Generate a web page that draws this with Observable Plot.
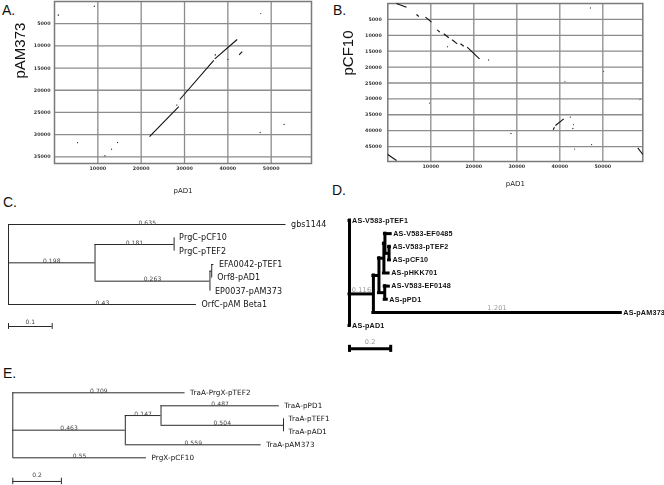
<!DOCTYPE html>
<html><head><meta charset="utf-8">
<script src="https://cdn.jsdelivr.net/npm/d3@7"></script>
<script src="https://cdn.jsdelivr.net/npm/@observablehq/plot@0.6"></script>
<style>
body{margin:0;background:#fff;}
#fig{position:relative;width:664px;height:485px;overflow:hidden;background:#fff;font-family:"Liberation Sans",Arial,sans-serif;}
.panel{position:absolute;filter:grayscale(1);}
.panel svg{overflow:visible;}
.letter{position:absolute;font-size:14px;line-height:14px;color:#111;}
</style></head><body><div id="fig"></div>
<script>
// ---------- Panel A: dot plot, pAD1 (x, bp) vs pAM373 (y, bp) ----------
const aLengthX = 59300, aLengthY = 36500;
const aTicksX = [10000, 20000, 30000, 40000, 50000];
const aTicksY = [5000, 10000, 15000, 20000, 25000, 30000, 35000];
// [x1, y1, x2, y2] matching segments
const aMatches = [
  [21920, 30420, 28680, 23660],
  [28910, 22080, 36750, 13290],
  [36990, 12910, 42140, 8560],
  [760, 3150, 1000, 2950],
  [9070, 1130, 9300, 1000],
  [47530, 2780, 47650, 2650],
  [42600, 12000, 43300, 11300],
  [37000, 12170, 37200, 11900],
  [39980, 13140, 40100, 12950],
  [28150, 23430, 28300, 23250],
  [5240, 31920, 5380, 31750],
  [11540, 34850, 11750, 34700],
  [13080, 33340, 13250, 33200],
  [14460, 31840, 14650, 31700],
  [47360, 29580, 47550, 29450],
  [52900, 27780, 53050, 27600]
];
// ---------- Panel B: dot plot, pAD1 (x, bp) vs pCF10 (y, bp) ----------
const bLengthX = 59300, bLengthY = 49700;
const bTicksX = [10000, 20000, 30000, 40000, 50000];
const bTicksY = [5000, 10000, 15000, 20000, 25000, 30000, 35000, 40000, 45000];
const bMatches = [
  [2000, 0, 4350, 1160],
  [6670, 3460, 7210, 4090],
  [8770, 4310, 10160, 5880],
  [11490, 8270, 12090, 9030],
  [13020, 9530, 14180, 10790],
  [14970, 11420, 16140, 12680],
  [16900, 12680, 17670, 13430],
  [18460, 13750, 21320, 17400],
  [13810, 13530, 13950, 13700],
  [23340, 17710, 23550, 17850],
  [41150, 24440, 41250, 24600],
  [50150, 21300, 50250, 21450],
  [9630, 31240, 9750, 31400],
  [28530, 40800, 28750, 40950],
  [58590, 30200, 58700, 30350],
  [38990, 38380, 40920, 36270],
  [38460, 39730, 38760, 38920],
  [42320, 35770, 42550, 35700],
  [42940, 39420, 43150, 39200],
  [43110, 38070, 43250, 38200],
  [43410, 45710, 43500, 45900],
  [47290, 44360, 47500, 44450],
  [47030, 1350, 47200, 1500],
  [0, 47500, 2020, 49390],
  [58130, 45400, 59300, 47500]
];
// ---------- Panel C tree: [node, parent, branch length, show length] ----------
const treeC = [
  ["rootC", null, 0, false],
  ["gbs1144", "rootC", 0.635, true],
  ["c1", "rootC", 0.198, true],
  ["c2", "c1", 0.181, true],
  ["PrgC-pCF10", "c2", 0, false],
  ["PrgC-pTEF2", "c2", 0, false],
  ["c3", "c1", 0.263, true],
  ["c4", "c3", 0.004, false],
  ["EFA0042-pTEF1", "c4", 0.005, false],
  ["Orf8-pAD1", "c4", 0.001, false],
  ["EP0037-pAM373", "c3", 0, false],
  ["OrfC-pAM Beta1", "rootC", 0.43, true]
];
const scaleC = 0.1;
// ---------- Panel D tree ----------
const treeD = [
  ["rootD", null, 0, false],
  ["AS-V583-pTEF1", "rootD", 0, false],
  ["d1", "rootD", 0.116, true],
  ["d2", "d1", 0.027, false],
  ["d3", "d2", 0.024, false],
  ["d4", "d3", 0.005, false],
  ["AS-V583-EF0485", "d4", 0.028, false],
  ["d5", "d4", 0.02, false],
  ["AS-V583-pTEF2", "d5", 0.004, false],
  ["AS-pCF10", "d5", 0.004, false],
  ["AS-pHKK701", "d3", 0.023, false],
  ["d6", "d2", 0.028, false],
  ["AS-V583-EF0148", "d6", 0.02, false],
  ["AS-pPD1", "d6", 0.01, false],
  ["AS-pAM373", "d1", 1.201, true],
  ["AS-pAD1", "rootD", 0, false]
];
const scaleD = 0.2;
// ---------- Panel E tree ----------
const treeE = [
  ["rootE", null, 0, false],
  ["TraA-PrgX-pTEF2", "rootE", 0.709, true],
  ["e1", "rootE", 0.463, true],
  ["e2", "e1", 0.147, true],
  ["TraA-pPD1", "e2", 0.487, true],
  ["e3", "e2", 0.504, true],
  ["TraA-pTEF1", "e3", 0, false],
  ["TraA-pAD1", "e3", 0, false],
  ["TraA-pAM373", "e1", 0.559, true],
  ["PrgX-pCF10", "rootE", 0.55, true]
];
const scaleE = 0.2;

const fig = document.getElementById("fig");
function place(node, left, top, w, h) {
  const d = document.createElement("div");
  d.className = "panel";
  d.style.left = left + "px"; d.style.top = top + "px";
  d.style.width = w + "px"; d.style.height = h + "px";
  d.appendChild(node);
  fig.appendChild(d);
}
function letter(t, left, top) {
  const d = document.createElement("div");
  d.className = "letter"; d.textContent = t;
  d.style.left = left + "px"; d.style.top = top + "px";
  fig.appendChild(d);
}

function dotPlot(o) {
  return Plot.plot({
    width: 332, height: 200,
    marginLeft: o.ml, marginRight: o.mr, marginTop: o.mt, marginBottom: o.mb,
    style: {background: "transparent", fontFamily: "'DejaVu Sans', sans-serif", overflow: "visible"},
    x: {domain: [0, o.lenX], axis: null},
    y: {domain: [0, o.lenY], reverse: true, axis: null},
    marks: [
      Plot.gridX(o.ticksX, {stroke: "#8c8c8c", strokeOpacity: 1, strokeWidth: 1.3}),
      Plot.gridY(o.ticksY, {stroke: "#8c8c8c", strokeOpacity: 1, strokeWidth: 1.3}),
      Plot.frame({stroke: "#7a7a7a", strokeWidth: 1.5}),
      Plot.axisX(o.ticksX, {tickSize: 0, tickPadding: 3, fontSize: 4.8, fontWeight: "bold", fill: "#333", tickFormat: d => String(d), label: null}),
      Plot.axisY(o.ticksY, {tickSize: 0, tickPadding: o.ypad, fontSize: 4.8, fontWeight: "bold", fill: "#333", tickFormat: d => String(d), label: null}),
      Plot.link(o.matches, {x1: d => d[0], y1: d => d[1], x2: d => d[2], y2: d => d[3], stroke: "#111", strokeWidth: 1.1}),
      Plot.text([o.xLabel], {text: d => d, frameAnchor: "bottom", lineAnchor: "middle", dy: o.xdy, fontSize: 7, fill: "#222"}),
      Plot.text([o.yLabel], {text: d => d, frameAnchor: "left", lineAnchor: "middle", rotate: -90, dx: o.ydx, dy: o.ydy, fontSize: 15, fontFamily: "'Liberation Sans', Arial, sans-serif", fill: "#111"})
    ]
  });
}

function layoutTree(rows) {
  const nodes = new Map(rows.map(([id, parent, len, show]) => [id, {id, parent, len, show, children: []}]));
  let root;
  for (const n of nodes.values()) {
    if (n.parent == null) root = n; else nodes.get(n.parent).children.push(n);
  }
  let leaf = 0;
  (function walk(n, px) {
    n.x = px + n.len;
    if (!n.children.length) n.y = leaf++;
    else {
      n.children.forEach(c => walk(c, n.x));
      n.y = (n.children[0].y + n.children[n.children.length - 1].y) / 2;
    }
  })(root, 0);
  const h = [], v = [], leaves = [], lens = [];
  for (const n of nodes.values()) {
    if (n.parent != null) {
      const p = nodes.get(n.parent);
      h.push({x1: p.x, x2: n.x, y: n.y});
      if (n.show) lens.push({x: (p.x + n.x) / 2, y: n.y, text: String(n.len)});
    }
    if (n.children.length) v.push({x: n.x, y1: n.children[0].y, y2: n.children[n.children.length - 1].y});
    else leaves.push({x: n.x, y: n.y, name: n.id});
  }
  return {h, v, leaves, lens, nLeaves: leaf};
}

function treePlot(rows, o) {
  const t = layoutTree(rows);
  const barRow = t.nLeaves - 1 + o.barOffset;
  return Plot.plot({
    width: o.width, height: o.height, margin: 0,
    style: {background: "transparent", fontFamily: "'DejaVu Sans', sans-serif", overflow: "visible", letterSpacing: o.ls},
    x: {domain: o.xDomain, range: o.xRange, axis: null},
    y: {domain: [0, t.nLeaves - 1], range: o.yRange, axis: null},
    marks: [
      Plot.ruleY(t.h, {x1: "x1", x2: "x2", y: "y", stroke: o.stroke, strokeWidth: o.sw, strokeLinecap: o.cap}),
      Plot.ruleX(t.v, {x: "x", y1: "y1", y2: "y2", stroke: o.stroke, strokeWidth: o.sw, strokeLinecap: o.cap}),
      Plot.text(t.leaves, {x: "x", y: "y", text: "name", dx: o.labelDx, textAnchor: "start", fontSize: o.fs, fontWeight: o.fw, fontFamily: o.ff, fill: "#111"}),
      Plot.text(t.lens, {x: "x", y: "y", text: "text", dy: o.lenDy, lineAnchor: "bottom", fontSize: o.lfs, fill: o.lenFill}),
      Plot.ruleY([o.bar], {x1: () => 0, x2: d => d, y: () => barRow, stroke: o.stroke, strokeWidth: o.sw}),
      Plot.ruleX([0, o.bar], {x: d => d, y1: () => barRow - o.tick, y2: () => barRow + o.tick, stroke: o.stroke, strokeWidth: o.sw}),
      Plot.text([o.bar], {x: d => d / 2, y: () => barRow, text: d => String(d), dy: o.barDy, lineAnchor: "bottom", fontSize: o.lfs, fill: o.lenFill})
    ]
  });
}

place(dotPlot({lenX: aLengthX, lenY: aLengthY, ticksX: aTicksX, ticksY: aTicksY, matches: aMatches,
  ml: 54, mr: 21, mt: 1, mb: 37, ypad: 4, xdy: 27, ydx: -34, ydy: -4, xLabel: "pAD1", yLabel: "pAM373"}), 0, 0, 332, 200);
place(dotPlot({lenX: bLengthX, lenY: bLengthY, ticksX: bTicksX, ticksY: bTicksY, matches: bMatches,
  ml: 55.3, mr: 21.7, mt: 3, mb: 39, ypad: 6, xdy: 22, ydx: -40, ydy: -7, xLabel: "pAD1", yLabel: "pCF10"}), 332, 0, 332, 200);

place(treePlot(treeC, {width: 332, height: 150, xDomain: [0, 0.7], xRange: [8, 8 + 0.7 * 437], yRange: [34, 114],
  stroke: "#2a2a2a", sw: 1, cap: "butt", labelDx: 5, fs: 8, fw: "normal", ff: "'DejaVu Sans', sans-serif", ls: "0.1px",
  lfs: 6, lenFill: "#444", lenDy: 0, bar: scaleC, barOffset: 1.65, tick: 0.22, barDy: -3}), 0, 190, 332, 150);
place(treePlot(treeD, {width: 332, height: 170, xDomain: [0, 1.4], xRange: [17, 17 + 1.4 * 206], yRange: [30, 135],
  stroke: "#000", sw: 3, cap: "square", labelDx: 2.5, fs: 7.2, fw: "bold", ff: "'Liberation Sans', Arial, sans-serif", ls: "0.2px",
  lfs: 6.5, lenFill: "#999", lenDy: -2, bar: scaleD, barOffset: 1.78, tick: 0.27, barDy: -5}), 332, 190, 332, 170);
place(treePlot(treeE, {width: 332, height: 145, xDomain: [0, 1.2], xRange: [12.3, 12.3 + 1.2 * 243], yRange: [52.3, 117.3],
  stroke: "#2a2a2a", sw: 1, cap: "butt", labelDx: 5, fs: 7.2, fw: "normal", ff: "'DejaVu Sans', sans-serif", ls: "0.1px",
  lfs: 6, lenFill: "#444", lenDy: 0, bar: scaleE, barOffset: 1.82, tick: 0.25, barDy: -4}), 0, 340, 332, 145);

letter("A.", 2, 3);
letter("B.", 333, 3);
letter("C.", 3, 195);
letter("D.", 332, 183);
letter("E.", 3, 366);
</script></body></html>
